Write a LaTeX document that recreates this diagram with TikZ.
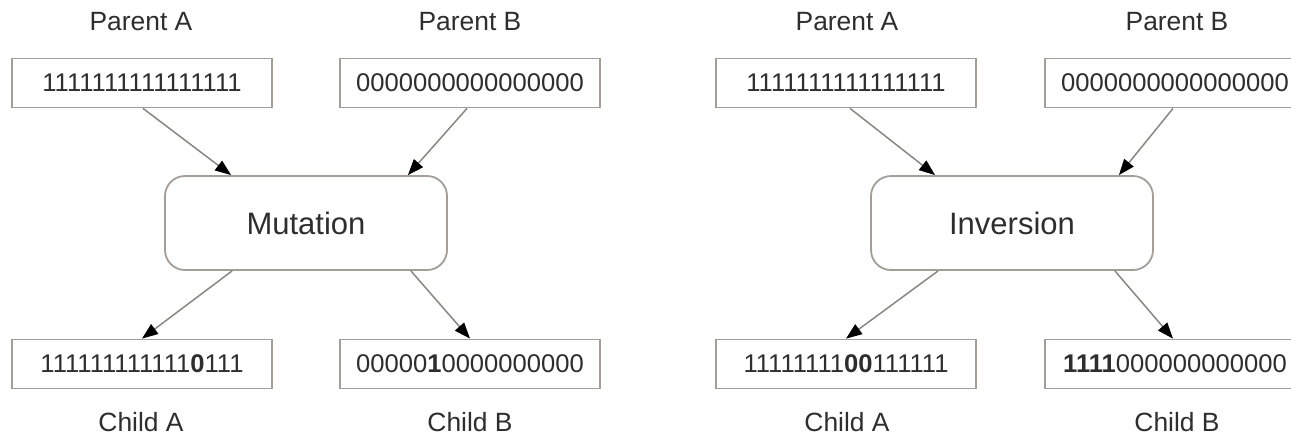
\documentclass[tikz,border=0pt]{standalone}
\usepackage{fontspec}
\setmainfont{Liberation Sans}
\usetikzlibrary{arrows.meta,calc}
\definecolor{txt}{HTML}{2E2E2E}
\definecolor{frame}{HTML}{A39E98}
\definecolor{arrline}{HTML}{8A8683}
\tikzset{
  x=0.5pt, y=-0.5pt,
  bits/.style={draw=frame, line width=0.9pt, fill=white, minimum width=130pt, minimum height=24.5pt, inner sep=0pt, text=txt, font=\fontsize{12.8}{14}\selectfont},
  lbl/.style={text=txt, inner sep=0pt, font=\fontsize{13.2}{15}\selectfont},
  op/.style={draw=frame, line width=0.9pt, rounded corners=10pt, fill=white, minimum width=141pt, minimum height=47pt, inner sep=0pt, text=txt, font=\fontsize{15.5}{18}\selectfont},
  arr/.style={draw=arrline, line width=0.75pt, -{Triangle[length=8pt,width=6pt,color=black]}}
}
\begin{document}
\begin{tikzpicture}
\useasboundingbox (0,0) rectangle (1291,435);
\clip (0,0) rectangle (1291,435);
\fill[white] (0,0) rectangle (1291,435);
% ---------- Left: Mutation ----------
\node[lbl] (lpAl) at (141,22) {Parent A};
\node[lbl] (lpBl) at (470,22) {Parent B};
\node[bits] (lpA) at (142,83) {1111111111111111};
\node[bits] (lpB) at (470,83) {0000000000000000};
\node[op] (mut) at (306,223) {Mutation};
\node[bits] (lcA) at (142,364) {111111111111\textbf{0}111};
\node[bits] (lcB) at (470,364) {00000\textbf{1}0000000000};
\node[lbl] (lcAl) at (141,422) {Child A};
\node[lbl] (lcBl) at (470,422) {Child B};
\draw[arr] ($(lpA.south)+(1,0)$) -- ($(mut.north west)+(67,0)$);
\draw[arr] ($(lpB.south)+(-3,0)$) -- ($(mut.north east)+(-40,0)$);
\draw[arr] ($(mut.south west)+(68,0)$) -- (lcA.north);
\draw[arr] ($(mut.south east)+(-37,0)$) -- (lcB.north);
% ---------- Right: Inversion ----------
\node[lbl] (rpAl) at (847,22) {Parent A};
\node[lbl] (rpBl) at (1177,22) {Parent B};
\node[bits] (rpA) at (846,83) {1111111111111111};
\node[bits] (rpB) at (1175,83) {0000000000000000};
\node[op] (inv) at (1012,223) {Inversion};
\node[bits] (rcA) at (846,364) {11111111\textbf{00}111111};
\node[bits] (rcB) at (1175,364) {\textbf{1111}000000000000};
\node[lbl] (rcAl) at (847,422) {Child A};
\node[lbl] (rcBl) at (1177,422) {Child B};
\draw[arr] ($(rpA.south)+(4,0)$) -- ($(inv.north west)+(65,0)$);
\draw[arr] ($(rpB.south)+(-2,0)$) -- ($(inv.north east)+(-35,0)$);
\draw[arr] ($(inv.south west)+(68,0)$) -- (rcA.north);
\draw[arr] ($(inv.south east)+(-39,0)$) -- ($(rcB.north)+(-2,0)$);
\end{tikzpicture}
\end{document}
